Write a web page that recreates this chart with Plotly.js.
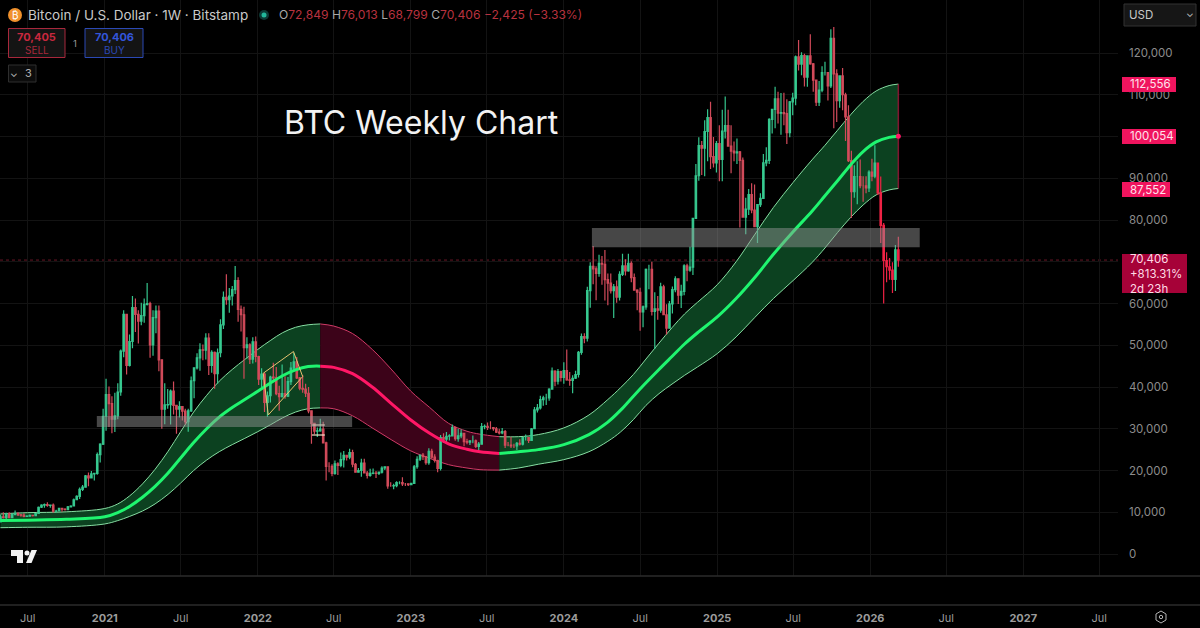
<!DOCTYPE html>
<html>
<head>
<meta charset="utf-8">
<script src="https://cdn.plot.ly/plotly-3.0.1.min.js"></script>
<style>html,body{margin:0;padding:0;background:#000}</style>
</head>
<body>
<div id="chart" style="width:1200px;height:628px"></div>
<script>
// Weekly candles in thousands of USD, first week 2020-04-27
const firstWeek = '2020-04-27';
const open2020=[7.7,8.9,8.7,9.7,8.7,9.45,9.75,9.35,9.3,9.0,9.05,9.25,9.2,9.7,11.2,11.7,11.85,11.65,11.7,10.25,10.3,10.95,10.75,10.6,11.3,11.5,13.0,13.8,15.5,16.0,18.7,18.2,19.2,19.3,23.8,26.3];
const high2020=[9.46,10.0,9.9,10.0,9.75,10.4,10.0,9.6,9.75,9.3,9.45,9.3,9.85,11.4,11.9,12.1,12.4,11.8,12.1,10.6,11.1,10.95,10.95,11.5,11.7,13.3,14.1,15.9,16.5,18.9,19.5,19.9,19.4,24.3,26.5,34.8];
const low2020=[7.6,8.5,8.2,8.7,8.6,9.3,9.1,8.9,8.8,8.9,9.0,9.0,9.1,9.6,11.0,11.1,11.3,11.1,9.9,9.9,10.2,10.1,10.4,10.5,11.2,11.4,12.9,13.2,15.1,15.9,16.2,18.1,17.6,19.0,21.9,26.1];
const close2020=[8.9,8.7,9.7,8.7,9.45,9.75,9.35,9.3,9.0,9.05,9.25,9.2,9.7,11.2,11.7,11.85,11.65,11.7,10.25,10.3,10.95,10.75,10.6,11.3,11.5,13.0,13.8,15.5,16.0,18.7,18.2,19.2,19.3,23.8,26.3,33.0];

const open2021=[33.0,38.2,36.0,32.3,33.1,38.8,48.6,57.4,45.2,50.9,59.0,57.4,55.8,57.1,59.8,60.0,50.1,56.6,58.2,46.5,34.7,35.7,35.8,39.0,35.6,34.7,35.3,34.2,31.7,34.3,41.5,44.6,47.0,48.9,48.8,51.7,45.2,48.3,43.2,48.2,54.9,61.5,60.9,61.8,63.3,65.5,58.6,57.3,49.4,50.1,46.7,50.8];
const high2021=[41.95,40.1,37.8,38.6,40.9,49.0,58.4,57.5,52.6,61.8,61.2,58.4,60.2,61.2,64.9,60.4,58.4,59.5,59.5,46.6,40.9,39.5,39.4,41.3,35.7,36.6,35.4,34.8,34.8,42.5,44.7,48.1,50.5,50.2,52.9,52.9,48.8,48.5,49.2,56.2,62.9,67.0,63.7,64.2,69.0,66.3,59.5,59.2,51.9,50.5,51.9,52.1];
const low2021=[29.5,30.4,28.9,29.2,32.3,37.9,47.1,43.0,44.9,49.3,53.2,50.4,54.8,55.4,59.5,47.0,47.5,52.9,43.8,30.0,31.1,34.8,31.0,33.4,28.8,32.7,32.0,31.0,29.3,34.0,37.3,44.2,43.9,46.4,46.6,42.9,43.4,39.6,40.8,47.1,53.9,59.7,57.8,59.5,62.3,55.6,53.3,42.0,46.8,45.5,45.6,45.9];
const close2021=[38.2,36.0,32.3,33.1,38.8,48.6,57.4,45.2,50.9,59.0,57.4,55.8,57.1,59.8,60.0,50.1,56.6,58.2,46.5,34.7,35.7,35.8,39.0,35.6,34.7,35.3,34.2,31.7,34.3,41.5,44.6,47.0,48.9,48.8,51.7,45.2,48.3,43.2,48.2,54.9,61.5,60.9,61.8,63.3,65.5,58.6,57.3,49.4,50.1,46.7,50.8,47.3];

const open2022=[47.3,41.9,43.1,36.3,37.9,42.4,42.2,38.4,37.7,38.4,37.8,41.3,44.5,46.0,42.2,39.7,39.5,38.5,34.3,31.3,29.4,29.5,29.9,26.6,21.0,21.0,19.3,21.6,21.2,22.6,23.6,23.2,24.3,21.5,19.6,20.0,21.8,19.4,18.8,19.3,19.4,19.3,19.6,20.6,20.9,16.3,16.3,16.4,17.1,17.1,16.8,16.8];
const high2022=[47.5,44.5,43.5,38.9,42.7,45.8,44.8,40.3,45.4,42.6,42.4,46.0,48.2,47.2,42.4,42.9,40.8,40.0,34.3,31.4,30.3,32.4,31.7,26.9,22.0,21.5,22.4,22.0,24.3,24.7,23.7,25.2,25.0,21.8,20.6,22.8,22.8,19.9,20.4,20.5,19.9,19.7,21.0,21.0,21.0,17.2,16.8,17.4,17.4,18.4,17.0,16.9];
const low2022=[40.5,39.7,34.0,32.9,36.3,41.7,38.0,34.3,37.5,37.2,37.6,40.5,44.0,41.9,39.2,38.6,37.6,33.7,26.4,28.7,28.0,29.3,26.6,17.6,19.6,18.6,19.0,18.9,20.8,20.7,22.4,22.7,20.8,19.5,19.5,18.5,19.3,18.1,18.5,19.1,18.2,18.9,19.3,20.1,15.6,16.1,15.5,16.0,16.7,16.3,16.3,16.3];
const close2022=[41.9,43.1,36.3,37.9,42.4,42.2,38.4,37.7,38.4,37.8,41.3,44.5,46.0,42.2,39.7,39.5,38.5,34.3,31.3,29.4,29.5,29.9,26.6,21.0,21.0,19.3,21.6,21.2,22.6,23.6,23.2,24.3,21.5,19.6,20.0,21.8,19.4,18.8,19.3,19.4,19.3,19.6,20.6,20.9,16.3,16.3,16.4,17.1,17.1,16.8,16.8,16.6];

const open2023=[16.6,16.9,20.9,22.7,23.7,23.3,21.9,24.6,23.2,22.4,20.5,27.9,27.5,28.2,28.3,30.3,27.6,28.3,28.9,26.9,26.8,27.1,27.1,25.8,26.3,30.5,30.6,30.3,30.3,30.0,29.2,29.0,29.3,26.1,26.1,25.9,25.9,26.5,26.3,27.9,27.9,27.2,30.0,34.5,35.0,37.0,37.4,37.4,39.5,43.8,41.4,43.7];
const high2023=[17.0,21.3,23.4,23.8,24.2,23.4,25.3,25.2,23.9,22.6,28.5,28.9,29.2,28.7,31.0,30.5,30.0,29.8,29.0,27.6,27.2,28.4,27.4,26.8,31.4,31.0,31.5,31.8,30.4,30.4,30.0,30.2,29.7,26.8,28.1,26.4,26.8,27.5,28.0,28.6,28.0,30.2,35.2,35.9,37.9,37.9,38.4,39.7,44.7,44.0,44.3,43.9];
const low2023=[16.5,16.9,20.4,22.3,22.5,21.4,21.4,22.8,21.9,19.6,20.0,26.6,26.5,27.2,28.2,27.1,26.9,27.7,25.8,26.3,26.1,26.5,25.4,24.8,26.3,29.9,29.7,29.9,29.5,29.0,28.6,28.7,25.4,25.8,25.4,25.4,24.9,26.0,26.0,27.2,26.6,27.1,29.9,33.9,34.6,35.5,35.7,36.7,39.5,40.2,40.6,41.3];
const close2023=[16.9,20.9,22.7,23.7,23.3,21.9,24.6,23.2,22.4,20.5,27.9,27.5,28.2,28.3,30.3,27.6,28.3,28.9,26.9,26.8,27.1,27.1,25.8,26.3,30.5,30.6,30.3,30.3,30.0,29.2,29.0,29.3,26.1,26.1,25.9,25.9,26.5,26.3,27.9,27.9,27.2,30.0,34.5,35.0,37.0,37.4,37.4,39.5,43.8,41.4,43.7,42.3];

const open2024=[42.3,43.9,41.7,41.6,42.1,43.0,48.3,52.1,51.7,63.1,68.9,68.3,67.2,69.6,69.4,65.7,64.9,63.1,64.0,61.5,67.0,69.0,67.8,69.6,66.2,63.2,62.7,58.0,59.2,68.2,68.2,58.1,58.7,58.4,64.0,57.3,54.1,59.9,63.3,65.9,62.0,62.9,69.0,68.0,68.7,80.4,90.6,97.8,97.2,101.2,104.5,95.2,93.7];
const high2024=[45.9,49.0,43.6,42.8,43.9,48.6,52.8,52.9,64.0,69.9,73.8,68.9,71.7,71.4,72.8,67.2,67.2,64.7,65.5,67.7,71.9,70.6,71.9,70.1,67.2,63.4,63.8,59.5,68.4,69.3,70.0,62.7,61.8,65.0,64.5,59.8,60.6,64.1,66.5,66.0,64.5,69.4,69.5,73.6,80.5,93.4,99.8,98.9,103.9,106.5,108.3,99.9,98.9];
const low2024=[40.8,41.5,40.3,38.5,41.9,42.3,47.7,50.5,50.9,59.0,64.6,60.8,66.4,64.5,60.7,59.6,62.4,56.5,60.2,60.7,66.6,66.7,67.6,65.1,63.2,58.4,53.5,54.3,58.5,63.4,57.1,49.1,56.1,57.8,57.2,52.6,54.0,57.6,62.7,59.9,58.9,62.0,65.3,67.6,66.8,80.4,89.4,90.8,90.5,94.1,92.2,92.6,91.4];
const close2024=[43.9,41.7,41.6,42.1,43.0,48.3,52.1,51.7,63.1,68.9,68.3,67.2,69.6,69.4,65.7,64.9,63.1,64.0,61.5,67.0,69.0,67.8,69.6,66.2,63.2,62.7,58.0,59.2,68.2,68.2,58.1,58.7,58.4,64.0,57.3,54.1,59.9,63.3,65.9,62.0,62.9,69.0,68.0,68.7,80.4,90.6,97.8,97.2,101.2,104.5,95.2,93.7,98.3];

const open2025=[98.3,94.5,101.3,102.6,97.7,96.5,96.1,96.3,94.3,80.7,82.6,86.1,82.4,78.4,83.7,85.2,93.7,94.3,104.1,106.5,109.0,105.6,105.7,105.5,100.9,108.3,109.2,119.1,117.3,119.4,114.2,119.3,117.4,113.5,108.2,111.1,115.3,115.3,112.1,123.5,115.0,108.6,114.5,110.0,104.7,94.2,86.8,90.4,90.4,88.2,88.2,87.7];
const high2025=[102.7,106.4,109.6,106.4,102.7,98.8,99.5,96.5,95.0,85.3,87.4,88.8,88.5,83.5,86.4,95.8,97.4,104.4,106.6,111.9,110.7,110.4,110.5,108.9,108.5,110.5,119.4,123.1,120.2,119.8,119.3,124.5,117.6,113.6,113.3,116.8,117.9,115.3,125.7,126.2,116.1,114.0,116.4,110.5,107.5,96.6,93.1,94.1,94.5,90.5,90.5,91.9];
const low2025=[89.3,89.3,99.5,97.8,91.2,94.1,93.4,78.2,81.5,76.6,81.2,81.6,81.2,74.5,83.1,85.1,92.9,93.4,100.7,102.0,103.1,100.4,102.7,98.2,99.8,105.1,107.5,115.8,114.7,112.0,111.9,117.2,110.7,107.3,107.3,110.6,114.6,108.6,111.6,102.0,103.5,106.9,106.3,98.9,93.9,80.5,85.3,83.8,87.6,84.4,86.4,86.7];
const close2025=[94.5,101.3,102.6,97.7,96.5,96.1,96.3,94.3,80.7,82.6,86.1,82.4,78.4,83.7,85.2,93.7,94.3,104.1,106.5,109.0,105.6,105.7,105.5,100.9,108.3,109.2,119.1,117.3,119.4,114.2,119.3,117.4,113.5,108.2,111.1,115.3,115.3,112.1,123.5,115.0,108.6,114.5,110.0,104.7,94.2,86.8,90.4,90.4,88.2,88.2,87.7,91.5];

const open2026=[91.5,90.5,93.6,86.5,78.7,70.3,68.8,68.0,65.8,72.849];
const high2026=[94.7,97.9,93.8,90.4,79.3,72.3,70.9,69.9,74.0,76.013];
const low2026=[89.3,90.0,86.0,74.5,60.0,65.1,65.7,62.5,63.0,68.799];
const close2026=[90.5,93.6,86.5,78.7,70.3,68.8,68.0,65.8,72.849,70.406];

// Moving-average band, thousands of USD
const bandDates=['2020-04-27','2020-07-01','2020-10-01','2021-01-01','2021-02-01','2021-03-01','2021-04-01','2021-05-01','2021-06-01','2021-07-01','2021-08-01','2021-09-01','2021-10-01','2021-11-01','2021-12-01','2022-01-01','2022-02-01','2022-03-01','2022-04-01','2022-05-01','2022-05-30','2022-07-01','2022-08-15','2022-10-01','2022-11-15','2023-01-01','2023-02-15','2023-04-01','2023-05-15','2023-06-15','2023-07-31','2023-09-15','2023-11-01','2024-01-01','2024-03-01','2024-04-15','2024-05-15','2024-06-15','2024-07-15','2024-08-15','2024-09-15','2024-10-15','2024-11-15','2025-01-01','2025-02-15','2025-04-01','2025-05-15','2025-07-01','2025-08-15','2025-09-15','2025-10-15','2025-11-15','2025-12-15','2026-01-15','2026-02-15','2026-03-09'];
const bandMid=[8.0,8.1,8.3,8.9,9.9,11.4,13.6,16.2,19.4,23.0,26.7,30.0,32.8,35.1,37.0,39.0,41.0,42.7,44.1,44.9,45.0,44.7,43.2,40.0,36.1,32.1,28.9,26.4,25.1,24.5,24.1,24.5,25.0,26.2,28.6,31.6,34.4,37.8,41.0,44.2,47.3,50.3,53.0,56.8,61.2,66.3,71.8,77.2,82.1,85.8,89.4,93.2,96.4,98.7,99.8,100.054];
const bandUpper=[9.6,9.9,10.1,10.9,12.0,13.9,16.8,20.3,24.6,29.3,34.0,38.0,41.4,44.2,46.6,49.0,51.2,53.0,54.3,54.9,55.1,54.6,52.8,49.0,44.3,39.0,35.1,31.3,29.4,28.7,28.1,28.1,28.6,30.2,33.3,37.0,39.8,43.0,46.7,50.5,54.2,57.5,60.3,64.5,70.0,76.6,83.0,89.0,94.4,97.9,101.5,105.2,108.4,110.9,112.2,112.556];
const bandLower=[6.3,6.4,6.5,7.2,8.0,9.0,10.3,12.0,14.3,17.0,20.0,22.5,24.5,26.2,27.7,29.3,31.0,32.6,34.0,34.8,35.0,34.8,33.1,30.2,27.4,24.7,22.9,21.4,20.6,20.2,20.1,20.6,21.5,22.6,24.5,27.0,29.2,32.2,35.6,38.4,40.7,42.8,44.8,48.0,52.0,56.7,61.2,65.5,69.8,73.3,77.0,80.6,83.6,86.0,87.2,87.552];
const turnBear='2022-05-30', turnBull='2023-07-31';

// Drawn zones and notes on the chart
const zoneStart=['2020-12-13','2024-03-08'];
const zoneEnd=['2022-08-14','2026-04-29'];
const zoneTop=[33050,78100];
const zoneBottom=[30400,73500];
const flagDates=['2022-01-14','2022-03-27','2022-04-18','2022-01-26','2022-01-14'];
const flagValues=[43300,48500,42500,33300,43300];
const boxDates=['2022-05-10','2022-06-10',null,'2022-05-10','2022-06-10'];
const boxValues=[30900,30900,null,28500,28500];

// Axis ticks and price tags
const xTickVals=['2020-07-01','2021-01-01','2021-07-01','2022-01-01','2022-07-01','2023-01-01','2023-07-01','2024-01-01','2024-07-01','2025-01-01','2025-07-01','2026-01-01','2026-07-01','2027-01-01','2027-07-01'];
const xTickText=['Jul','<b>2021</b>','Jul','<b>2022</b>','Jul','<b>2023</b>','Jul','<b>2024</b>','Jul','<b>2025</b>','Jul','<b>2026</b>','Jul','<b>2027</b>','Jul'];
const yTickVals=[0,10000,20000,30000,40000,50000,60000,70000,80000,90000,100000,110000,120000];
// the 70,000 label sits behind the last-price tag in the reference
const yTickText=['0','10,000','20,000','30,000','40,000','50,000','60,000','','80,000','90,000','','110,000','120,000'];
const lastPrice=70406;
const bandTagText=['112,556','100,054','87,552'];
const brightFromWeek=299; // the sharp sell-off of early 2026 is drawn in a stronger red

const open=[].concat(open2020,open2021,open2022,open2023,open2024,open2025,open2026);
const high=[].concat(high2020,high2021,high2022,high2023,high2024,high2025,high2026);
const low=[].concat(low2020,low2021,low2022,low2023,low2024,low2025,low2026);
const close=[].concat(close2020,close2021,close2022,close2023,close2024,close2025,close2026);
if(open.length!==307||high.length!==307||low.length!==307||close.length!==307) throw new Error('len '+[open.length,high.length,low.length,close.length]);
if(bandDates.length!==bandMid.length||bandDates.length!==bandUpper.length||bandDates.length!==bandLower.length) throw new Error('band len');

const k=a=>a.map(v=>v*1000);
const weeks=open.map((_,i)=>new Date(Date.parse(firstWeek+'T00:00:00Z')+i*7*864e5).toISOString().slice(0,10));

const W=1118,H=576;
const X=px=>px/W, Y=py=>1-py/H;
const iBear=bandDates.indexOf(turnBear), iBull=bandDates.indexOf(turnBull), iEnd=bandDates.length;
const segments=[[0,iBear+1,'g'],[iBear,iBull+1,'r'],[iBull,iEnd,'g']];
const GREEN={fill:'#0c4120',edge:'#86dea2',mid:'#1ff56f'};
const RED={fill:'#3c0319',edge:'#cf3a66',mid:'#ff1766'};
const traces=[];
segments.forEach(s=>{
  const c=s[2]==='g'?GREEN:RED, d=bandDates.slice(s[0],s[1]);
  traces.push({type:'scatter',mode:'lines',x:d,y:k(bandLower.slice(s[0],s[1])),line:{color:c.edge,width:1,shape:'spline',smoothing:1},hoverinfo:'skip',xaxis:'x',yaxis:'y'});
  traces.push({type:'scatter',mode:'lines',x:d,y:k(bandUpper.slice(s[0],s[1])),fill:'tonexty',fillcolor:c.fill,line:{color:c.edge,width:1,shape:'spline',smoothing:1},hoverinfo:'skip',xaxis:'x',yaxis:'y'});
});
const last=bandDates[iEnd-1];
traces.push({type:'scatter',mode:'lines',x:[last,last],y:[87552,112556],line:{color:'rgba(170,20,60,0.75)',width:1.5},hoverinfo:'skip',xaxis:'x',yaxis:'y'});
const candle=(a,b,redLine,redFill)=>({type:'candlestick',x:weeks.slice(a,b),open:k(open.slice(a,b)),high:k(high.slice(a,b)),low:k(low.slice(a,b)),close:k(close.slice(a,b)),
  increasing:{line:{color:'#35c58d',width:1.2},fillcolor:'#45dfa2'},
  decreasing:{line:{color:redLine,width:1.2},fillcolor:redFill},
  xaxis:'x',yaxis:'y2',hoverinfo:'skip'});
traces.push(candle(0,brightFromWeek,'#d14a5a','#e2525f'));
traces.push(candle(brightFromWeek,307,'#ee2244','#f5284c'));
segments.forEach(s=>{
  const c=s[2]==='g'?GREEN:RED;
  traces.push({type:'scatter',mode:'lines',x:bandDates.slice(s[0],s[1]),y:k(bandMid.slice(s[0],s[1])),line:{color:c.mid,width:3,shape:'spline',smoothing:1},hoverinfo:'skip',xaxis:'x',yaxis:'y3'});
});
traces.push({type:'scatter',mode:'markers',x:[last],y:[100054],marker:{color:'#ff1766',size:5},hoverinfo:'skip',xaxis:'x',yaxis:'y3'});
traces.push({type:'scatter',mode:'lines',x:flagDates,y:flagValues,line:{color:'#e6c270',width:1},hoverinfo:'skip',xaxis:'x',yaxis:'y3'});
traces.push({type:'scatter',mode:'lines',x:boxDates,y:boxValues,line:{color:'#f0e2c8',width:1.2},hoverinfo:'skip',xaxis:'x',yaxis:'y3'});

const RANGE=[-5269,132695];
const shapes=[];
zoneStart.forEach((_,i)=>shapes.push({type:'rect',layer:'above',xref:'x',yref:'y',x0:zoneStart[i],x1:zoneEnd[i],y0:zoneBottom[i],y1:zoneTop[i],fillcolor:'rgba(150,150,150,0.47)',line:{width:0}}));
shapes.push({type:'line',layer:'below',xref:'paper',yref:'y',x0:0,x1:1,y0:lastPrice,y1:lastPrice,line:{color:'rgba(190,40,70,0.55)',width:1,dash:'dot'}});
const pxRect=(x0,y0,x1,y1,fill,line)=>({type:'rect',layer:'above',xref:'paper',yref:'paper',x0:X(x0),x1:X(x1),y0:Y(y0),y1:Y(y1),fillcolor:fill,line:line||{width:0}});
const pxPath=(d,fill,line)=>{
  const path=d.replace(/(-?[\d.]+) (-?[\d.]+)/g,(m,a,b)=>X(+a)+','+Y(+b));
  return {type:'path',layer:'above',xref:'paper',yref:'paper',path:path,fillcolor:fill,line:line||{width:0}};
};
shapes.push(pxRect(0,576,1200,576,'rgba(0,0,0,0)',{color:'#2b2b2b',width:1.5}));
shapes.push(pxRect(0,605,1200,605,'rgba(0,0,0,0)',{color:'#2b2b2b',width:1.5}));
// price tags
shapes.push(pxRect(1122,77,1176,92,'#f0145e'));
shapes.push(pxRect(1122,129,1176,144,'#f0145e'));
shapes.push(pxRect(1122,182,1170,197,'#f0145e'));
shapes.push(pxRect(1122,254,1187,293,'#a60238'));
// top-left widgets
shapes.push(pxRect(8.5,28.5,65,57.5,'#141414',{color:'#a8283c',width:1}));
shapes.push(pxRect(85,28.5,143,57.5,'#141414',{color:'#2b49b5',width:1}));
shapes.push(pxRect(8.5,65,36,82,'#0c0c0c',{color:'#2e2e2e',width:1}));
shapes.push(pxRect(1124,4,1196,26,'#161616',{color:'#333',width:1}));
shapes.push({type:'circle',layer:'above',xref:'paper',yref:'paper',x0:X(8),x1:X(22),y0:Y(22),y1:Y(8),fillcolor:'#f0912c',line:{width:0}});
shapes.push({type:'circle',layer:'above',xref:'paper',yref:'paper',x0:X(259),x1:X(269),y0:Y(20),y1:Y(10),fillcolor:'#0d3a35',line:{width:0}});
shapes.push({type:'circle',layer:'above',xref:'paper',yref:'paper',x0:X(261.5),x1:X(266.5),y0:Y(17.5),y1:Y(12.5),fillcolor:'#22b79a',line:{width:0}});
// logo and gear
shapes.push(pxPath('M 11 550 L 23 550 L 23 563 L 17 563 L 17 556 L 11 556 Z','#f2f2f2'));
shapes.push(pxPath('M 26 563 L 31.5 550 L 37 550 L 31.5 563 Z','#f2f2f2'));
shapes.push({type:'circle',layer:'above',xref:'paper',yref:'paper',x0:X(24.5),x1:X(29.5),y0:Y(555.5),y1:Y(550.5),fillcolor:'#f2f2f2',line:{width:0}});
shapes.push(pxPath('M 1161 611 L 1166 614 L 1166 620 L 1161 623 L 1156 620 L 1156 614 Z','rgba(0,0,0,0)',{color:'#b5b5b5',width:1}));
shapes.push({type:'circle',layer:'above',xref:'paper',yref:'paper',x0:X(1159.3),x1:X(1162.7),y0:Y(618.7),y1:Y(615.3),fillcolor:'rgba(0,0,0,0)',line:{color:'#b5b5b5',width:1}});

const F='Inter, "Noto Sans", sans-serif';
const txt=(x,y,text,size,color,anchor)=>({xref:'paper',yref:'paper',x:X(x),y:Y(y),text:text,showarrow:false,xanchor:anchor||'left',yanchor:'middle',font:{family:F,size:size,color:color},align:'left',borderpad:0});
const r='#b8323f', g='#a8a8a8';
const annotations=[
  txt(27,15,'Bitcoin / U.S. Dollar · 1W · Bitstamp',13.5,'#c9c9c9'),
  txt(15,15,'₿',10,'#fff','center'),
  txt(278,15,`<span style="color:${g}">O</span>72,849 <span style="color:${g}">H</span>76,013 <span style="color:${g}">L</span>68,799 <span style="color:${g}">C</span>70,406 −2,425 (−3.33%)`,12.1,r),
  txt(36.7,37,'<b>70,405</b>',11,'#c8283e','center'),
  txt(36.7,50,'SELL',10,'#a8283c','center'),
  txt(114,37,'<b>70,406</b>',11,'#3355d8','center'),
  txt(114,50,'BUY',10,'#2b49b5','center'),
  txt(75,43,'1',9.5,'#9a9a9a','center'),
  txt(14,73.5,'⌄',10,'#cfcfcf','center'),
  txt(24,73.5,'3',11,'#b0b0b0'),
  txt(1128,15,'USD',11.5,'#c8c8c8'),
  txt(1190,13,'⌄',10,'#d0d0d0','center'),
  txt(1128.5,84.5,bandTagText[0],11.5,'#ffe3ec'),
  txt(1128.5,136.5,bandTagText[1],11.5,'#ffe3ec'),
  txt(1128.5,189.5,bandTagText[2],11.5,'#ffe3ec'),
  txt(1128.5,273.5,'70,406<br>+813.31%<br>2d 23h',11.5,'#ffdbe6')
];

const layout={
  width:1200,height:628,autosize:false,
  paper_bgcolor:'#000',plot_bgcolor:'#000',
  margin:{l:0,r:82,t:0,b:52,pad:0},
  showlegend:false,hovermode:false,
  title:{text:'BTC Weekly Chart',x:284/1200,xanchor:'left',y:1-123/628,yanchor:'middle',font:{family:F,size:32,color:'#f2f2f2'}},
  xaxis:{type:'date',range:['2020-04-26','2027-08-15'],tickmode:'array',tickvals:xTickVals,ticktext:xTickText,tickangle:0,
    gridcolor:'#131313',gridwidth:1,showline:false,zeroline:false,ticks:'',ticklabelstandoff:34,
    tickfont:{family:F,size:11,color:'#9c9c9c'},rangeslider:{visible:false},fixedrange:true},
  yaxis:{side:'right',range:RANGE,tickmode:'array',tickvals:yTickVals,ticktext:yTickText,gridcolor:'#131313',gridwidth:1,zeroline:false,showline:false,ticks:'',
    ticklabelstandoff:10,tickfont:{family:F,size:11.5,color:'#8c8c8c'},fixedrange:true},
  yaxis2:{overlaying:'y',side:'right',range:RANGE,visible:false,fixedrange:true},
  yaxis3:{overlaying:'y',side:'right',range:RANGE,visible:false,fixedrange:true},
  shapes:shapes,annotations:annotations
};
Plotly.newPlot('chart',traces,layout,{displayModeBar:false,staticPlot:true});
</script>
</body>
</html>
